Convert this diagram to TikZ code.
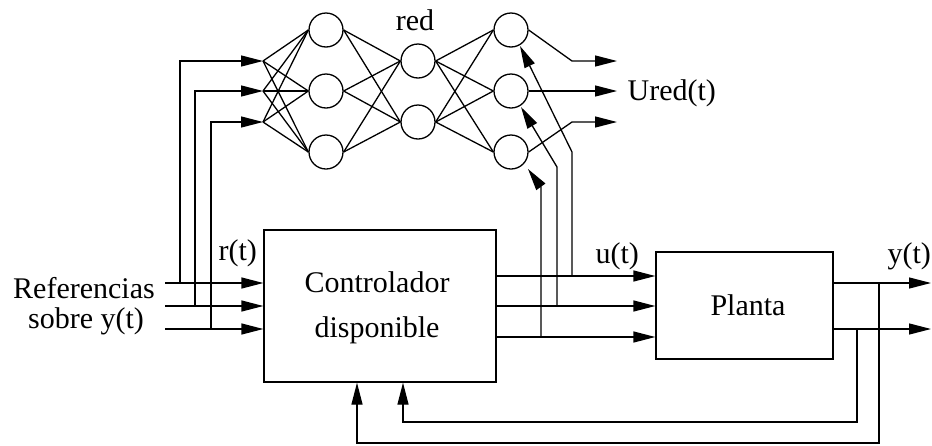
\documentclass[tikz,border=0pt]{standalone}
\usepackage{fontspec}
\setmainfont{Liberation Serif}
\usetikzlibrary{arrows.meta}
\begin{document}
\begin{tikzpicture}[x=1pt,y=-1pt,
  line width=1.3pt,
  arr/.style={-{Triangle[length=22pt,width=11pt]}},
  neuron/.style={circle,draw,minimum size=34pt,inner sep=0pt},
  blockbox/.style={draw,rectangle,inner sep=0pt},
  lbl/.style={font=\fontsize{30}{36}\selectfont,inner sep=0pt}]
\useasboundingbox (0,0) rectangle (932,445);

% blocks
\node[blockbox,minimum width=232pt,minimum height=152pt] (ctrl) at (380,306) {};
\node[blockbox,minimum width=177pt,minimum height=107pt] (plant) at (744.5,305.5) {};

% neurons
\foreach \n/\x/\y in {a1/326/30, a2/326/91, a3/326/152, b1/418/61, b2/418/122, c1/511/30, c2/511/91, c3/511/152}
  \node[neuron] (\n) at (\x,\y) {};

% input points of network
\coordinate (i1) at (263,61);
\coordinate (i2) at (263,91);
\coordinate (i3) at (263,122);

\foreach \i in {1,2,3} \foreach \j in {1,2,3} \draw (i\i) -- (a\j.west);
\foreach \i in {1,2,3} \foreach \j in {1,2} \draw (a\i.east) -- (b\j.west);
\foreach \i in {1,2} \foreach \j in {1,2,3} \draw (b\i.east) -- (c\j.west);

% reference inputs
\coordinate (s1) at (165,283);
\coordinate (s2) at (165,306);
\coordinate (s3) at (165,329);
\foreach \k in {1,2,3} \draw[arr] (s\k) -- (s\k -| ctrl.west);
\coordinate (t1) at (180,283);
\coordinate (t2) at (195,306);
\coordinate (t3) at (211,329);
\foreach \k in {1,2,3} \draw[arr] (t\k) |- (i\k);

% controller outputs
\coordinate (u1) at (496,276);
\coordinate (u2) at (496,306);
\coordinate (u3) at (496,337);
\foreach \k in {1,2,3} \draw[arr] (u\k) -- (u\k -| plant.west);

% feedback of u into network
\coordinate (f1) at (572,276);
\coordinate (k1) at (572,152);
\coordinate (e1) at (520,46);
\coordinate (f2) at (557,306);
\coordinate (k2) at (557,167);
\coordinate (e2) at (521,107);
\coordinate (f3) at (541,337);
\coordinate (k3) at (541,187);
\coordinate (e3) at (528,169);
\foreach \k in {1,2,3} \draw[arr] (f\k) -- (k\k) -- (e\k);

% network outputs
\coordinate (n1) at (572,61);
\coordinate (z1) at (617,61);
\coordinate (z2) at (617,91);
\coordinate (n3) at (572,122);
\coordinate (z3) at (617,122);
\draw[arr] (c1.east) -- (n1) -- (z1);
\draw[arr] (c2.east) -- (z2);
\draw[arr] (c3.east) -- (n3) -- (z3);

% plant outputs
\coordinate (p1) at (plant.east |- t1);
\coordinate (p2) at (plant.east |- t3);
\coordinate (y1) at (931,283);
\coordinate (y2) at (931,329);
\draw[arr] (p1) -- (y1);
\draw[arr] (p2) -- (y2);

% feedback to controller
\coordinate (q1) at (879,283);
\coordinate (q2) at (857,329);
\coordinate (w1) at (357,443);
\coordinate (w2) at (403,422);
\draw[arr] (q1) |- (w1) -- (w1 |- ctrl.south);
\draw[arr] (q2) |- (w2) -- (w2 |- ctrl.south);

% labels
\node[lbl,anchor=base] (lred) at (415,30) {red};
\node[lbl,anchor=base west] (lured) at (627,100) {Ured(t)};
\node[lbl,anchor=base west] (lu) at (595,263) {u(t)};
\node[lbl,anchor=base west] (ly) at (887,263) {y(t)};
\node[lbl,anchor=base west] (lr) at (218,260) {r(t)};
\node[lbl,anchor=base] (lref1) at (84,298) {Referencias};
\node[lbl,anchor=base] (lref2) at (86,328) {sobre y(t)};
\node[lbl,anchor=base] (lc1) at (377,292) {Controlador};
\node[lbl,anchor=base] (lc2) at (377,337) {disponible};
\node[lbl,anchor=base] (lp) at (748,315) {Planta};
\end{tikzpicture}
\end{document}
